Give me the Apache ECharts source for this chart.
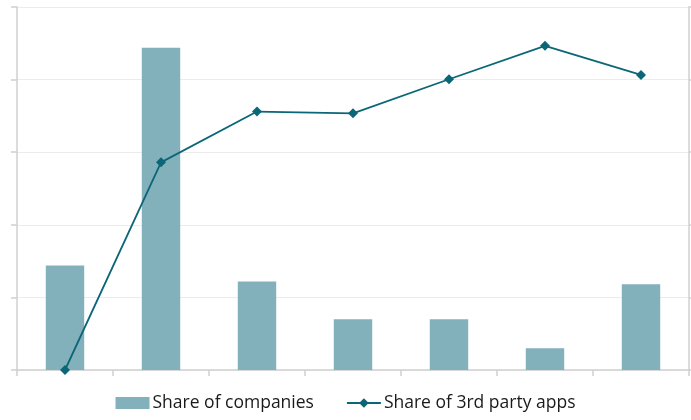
<!DOCTYPE html>
<html>
<head>
<meta charset="utf-8">
<script src="https://cdn.jsdelivr.net/npm/echarts@6/dist/echarts.min.js"></script>
<style>
  html, body { margin: 0; padding: 0; background: #fff; }
  #chart { width: 691px; height: 420px; }
</style>
</head>
<body>
<div id="chart"></div>
<script>
// data (no tick labels in the original, scales are relative)
var categories = ['1', '2', '3', '4', '5', '6', '7'];
var shareCompanies = [7.2, 22.2, 6.1, 3.5, 3.5, 1.5, 5.9];
var shareApps = [0, 57.2, 71.2, 70.7, 80.1, 89.3, 81.3];

var axisGrey = '#d0d0d0';
var chart = echarts.init(document.getElementById('chart'));
chart.setOption({
  animation: false,
  grid: { left: 17, right: 2, top: 7, bottom: 50 },
  legend: {
    bottom: 3,
    left: 'center',
    itemGap: 32,
    itemWidth: 34,
    itemHeight: 12,
    textStyle: { fontFamily: 'Open Sans', fontSize: 17.5, color: '#1a1a1a', padding: [0, 0, 0, -2] },
    data: [
      { name: 'Share of companies', icon: 'rect' },
      { name: 'Share of 3rd party apps' }
    ]
  },
  xAxis: {
    type: 'category',
    data: categories,
    axisLine: { lineStyle: { color: axisGrey, width: 1.5 } },
    axisTick: { show: true, length: 6, lineStyle: { color: axisGrey, width: 1.5 } },
    axisLabel: { show: false }
  },
  yAxis: [
    {
      type: 'value', min: 0, max: 25, interval: 5,
      axisLine: { show: true, lineStyle: { color: axisGrey, width: 1.5 } },
      axisTick: { show: true, length: 6, lineStyle: { color: axisGrey, width: 1.5 } },
      axisLabel: { show: false },
      splitLine: { lineStyle: { color: '#ececec', width: 1 } }
    },
    {
      type: 'value', min: 0, max: 100, interval: 20,
      position: 'right',
      axisLine: { show: true, lineStyle: { color: axisGrey, width: 1.5 } },
      axisTick: { show: true, length: 6, lineStyle: { color: axisGrey, width: 1.5 } },
      axisLabel: { show: false },
      splitLine: { show: false }
    }
  ],
  series: [
    {
      name: 'Share of companies',
      type: 'bar',
      barWidth: '40%',
      data: shareCompanies,
      itemStyle: { color: '#82b1bc' }
    },
    {
      name: 'Share of 3rd party apps',
      type: 'line',
      yAxisIndex: 1,
      data: shareApps,
      symbol: 'diamond',
      symbolSize: 10,
      lineStyle: { color: '#0b6677', width: 1.8 },
      itemStyle: { color: '#0b6677' }
    }
  ]
});
</script>
</body>
</html>
